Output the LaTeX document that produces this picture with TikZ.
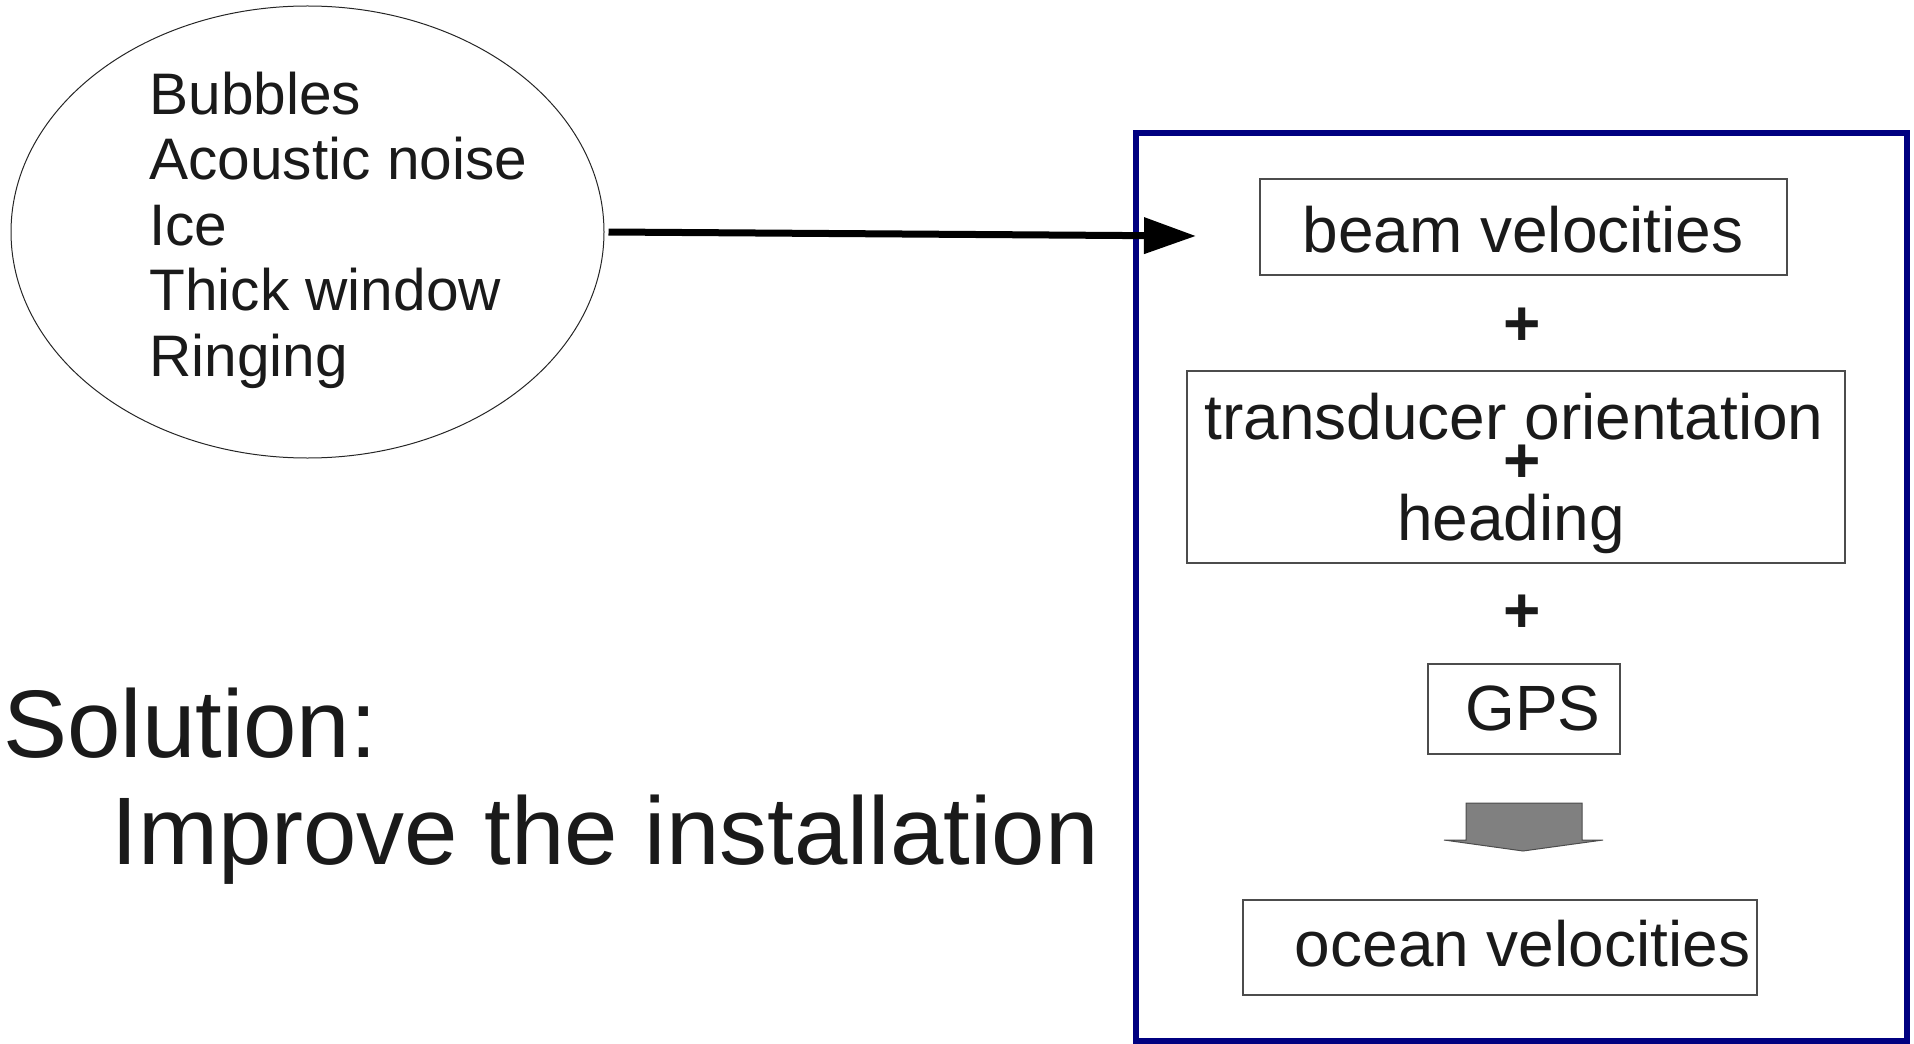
\documentclass[tikz,border=0pt]{standalone}
\usepackage{fontspec}
\setmainfont{Liberation Sans}
\usetikzlibrary{arrows.meta,shapes.geometric}
\definecolor{navyblue}{RGB}{0,0,128}
\definecolor{txt}{RGB}{26,26,26}
\begin{document}
\begin{tikzpicture}[x=0.5pt,y=-0.5pt,
  thinbox/.style={draw=black!70, line width=0.75pt, inner sep=0},
  lbl/.style={text=txt, inner sep=0, font=\fontsize{32}{38}\selectfont, anchor=base},
  plus/.style={text=txt, inner sep=0, font=\fontsize{32}{38}\selectfont\bfseries},
  cause/.style={text=txt, inner sep=0, font=\fontsize{29.3}{34}\selectfont, anchor=base west},
  big/.style={text=txt, inner sep=0, font=\fontsize{48}{56}\selectfont, anchor=base west}]
\useasboundingbox (0,0) rectangle (1914,1043);
% causes ellipse
\node[ellipse, draw=black!85, line width=0.5pt, minimum width=296.5pt, minimum height=226pt, inner sep=0] (causes) at (307.5,232) {};
\node[cause] (c1) at (149,115) {Bubbles};
\node[cause] (c2) at (149,180) {Acoustic noise};
\node[cause] (c3) at (149,245) {Ice};
\node[cause] (c4) at (149,310) {Thick window};
\node[cause] (c5) at (149,376) {Ringing};
% solution text
\node[big] (sol) at (3,757) {Solution:};
\node[big] (imp) at (111,864) {Improve the installation};
% panel
\node[draw=navyblue, line width=3pt, minimum width=385.5pt, minimum height=454pt, inner sep=0] (panel) at (1521.5,587) {};
% boxes
\node[thinbox, minimum width=263.5pt, minimum height=48pt] (beam) at (1523.5,227) {};
\node[thinbox, minimum width=329pt, minimum height=96pt] (trans) at (1516,467) {};
\node[thinbox, minimum width=96pt, minimum height=45pt] (gps) at (1524,709) {};
\node[thinbox, minimum width=257pt, minimum height=47.5pt] (ocean) at (1500,947.5) {};
% texts
\node[lbl] (tbeam) at (1523,252) {beam velocities};
\node[lbl] (ttrans) at (1514,439) {transducer orientation};
\node[lbl] (thead) at (1511,540) {heading};
\node[lbl] (tgps) at (1533,730) {GPS};
\node[lbl] (tocean) at (1522.5,966) {ocean velocities};
\node[plus] (p1) at (1522,327) {+};
\node[plus] (p2) at (1522,464) {+};
\node[plus] (p3) at (1522,614) {+};
% block arrow
\draw[fill=black!50, draw=black!70, line width=0.5pt]
  (1466,803) -- (1582,803) -- (1582,840) -- (1603,840) -- (1523,851) -- (1444,840) -- (1466,840) -- cycle;
% arrow
\coordinate (tip) at (1196,236);
\draw[line width=3.5pt, -{Triangle[length=26pt,width=17.5pt]}] ([xshift=2pt]causes.east) -- (tip);
\end{tikzpicture}
\end{document}
